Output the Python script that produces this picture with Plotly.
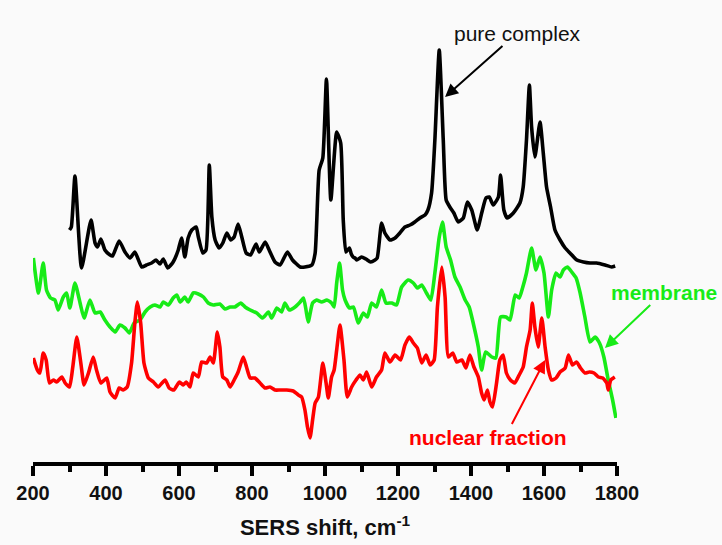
import plotly.graph_objects as go

# ---- data (SERS shift in cm^-1, intensity in arbitrary offset units) ----
complex_shift = [300, 305, 315, 333, 359, 370, 377, 386, 397, 411, 418, 436, 452, 466, 479, 498, 511, 525,
                 537, 548, 557, 569, 584, 598, 607, 616, 625, 635, 647, 653, 665, 674, 683, 690, 699, 710,
                 720, 731, 742, 751, 762, 772, 784, 796, 811, 820, 836, 847, 863, 877, 897, 911, 932, 945,
                 964, 973, 984, 994, 1004, 1016, 1032, 1043, 1050, 1057, 1062, 1067, 1072, 1077, 1082,
                 1087, 1100, 1112, 1125, 1137, 1143, 1155, 1164, 1178, 1192, 1205, 1219, 1233, 1246, 1260,
                 1274, 1282, 1292, 1301, 1313, 1324, 1332, 1342, 1353, 1365, 1379, 1390, 1402, 1417, 1430,
                 1441, 1450, 1461, 1475, 1481, 1490, 1499, 1516, 1534, 1543, 1552, 1560, 1566, 1575, 1589,
                 1598, 1607, 1618, 1630, 1644, 1658, 1671, 1690, 1708, 1726, 1744, 1767, 1785, 1795]
complex_int = [232, 235, 286, 194, 242, 219, 215, 223, 212, 207, 206, 221, 210, 204, 210, 195, 197, 199,
               202, 198, 203, 194, 200, 212, 224, 205, 224, 232, 235, 225, 209, 212, 297, 245, 222, 214,
               219, 229, 222, 225, 238, 225, 209, 207, 218, 210, 220, 212, 200, 197, 210, 202, 195, 195,
               197, 209, 292, 304, 383, 262, 330, 319, 242, 210, 212, 214, 208, 205, 204,
               202, 205, 203, 200, 202, 204, 239, 229, 222, 224, 229, 235, 237, 240, 244,
               247, 252, 269, 322, 412, 322, 262, 255, 249, 240, 244, 260, 252, 232, 250,
               264, 265, 257, 265, 287, 252, 244, 249, 259, 275, 322, 377, 335, 305, 340,
               309, 275, 255, 232, 222, 214, 209, 202, 200, 199, 199, 197, 195, 196]

membrane_shift = [201, 215, 228, 237, 248, 260, 269, 283, 292, 301, 315, 329, 340, 356, 370, 384, 397, 411,
                  425, 438, 452, 464, 477, 493, 507, 521, 534, 548, 557, 571, 584, 594, 603, 616, 625, 639,
                  653, 667, 680, 694, 712, 726, 740, 753, 769, 781, 795, 813, 829, 845, 854, 868, 881, 890,
                  902, 918, 932, 941, 948, 954, 966, 977, 991, 1005, 1018, 1025, 1032, 1040, 1048, 1055,
                  1067, 1078, 1091, 1105, 1116, 1128, 1141, 1155, 1167, 1183, 1196, 1210, 1228, 1242, 1253,
                  1265, 1278, 1290, 1301, 1313, 1322, 1332, 1344, 1356, 1370, 1384, 1395, 1406, 1420, 1429,
                  1440, 1457, 1468, 1481, 1496, 1507, 1521, 1532, 1542, 1552, 1566, 1578, 1589, 1600, 1612,
                  1621, 1633, 1644, 1653, 1664, 1676, 1688, 1699, 1712, 1726, 1740, 1752, 1764, 1776, 1788,
                  1797]
membrane_int = [204, 169, 199, 172, 164, 162, 152, 165, 169, 154, 179, 159, 144, 162, 149, 150, 142, 135,
                130, 137, 134, 129, 139, 142, 150, 155, 157, 155, 160, 157, 164, 167, 160, 165, 160, 169,
                168, 165, 159, 157, 158, 153, 155, 155, 159, 155, 152, 149, 144, 150, 144, 154, 150, 159,
                152, 155, 160, 164, 152, 140, 159, 162, 160, 162, 159, 155, 179, 199, 172, 162,
                154, 155, 139, 149, 145, 159, 155, 172, 159, 159, 157, 175, 182, 179, 174,
                177, 169, 162, 189, 225, 240, 215, 202, 185, 175, 162, 155, 139, 115, 92,
                110, 105, 104, 145, 145, 142, 167, 164, 175, 189, 214, 192, 205, 189, 145,
                172, 189, 185, 192, 195, 190, 184, 169, 145, 120, 125, 119, 105, 82, 62,
                44]

nuclear_shift = [201, 212, 219, 228, 236, 245, 256, 265, 279, 288, 300, 309, 320, 331, 340, 352, 365, 374,
                 386, 402, 411, 425, 436, 447, 458, 470, 479, 486, 495, 504, 516, 530, 543, 562, 573, 586,
                 601, 612, 620, 630, 639, 653, 662, 676, 685, 694, 705, 712, 720, 731, 740, 751, 762, 776,
                 785, 795, 808, 822, 836, 849, 863, 877, 895, 913, 927, 936, 945, 952, 959, 966, 973, 982,
                 994, 1003, 1009, 1018, 1025, 1032, 1041, 1052, 1061, 1073, 1085, 1096, 1105, 1114, 1128,
                 1141, 1155, 1164, 1178, 1192, 1207, 1219, 1231, 1242, 1253, 1265, 1277, 1288, 1299, 1308,
                 1320, 1329, 1338, 1350, 1361, 1375, 1386, 1397, 1408, 1420, 1429, 1436, 1445, 1452, 1459,
                 1470, 1479, 1488, 1497, 1508, 1520, 1532, 1543, 1552, 1562, 1568, 1575, 1584, 1594, 1603,
                 1612, 1621, 1633, 1644, 1658, 1667, 1678, 1689, 1700, 1712, 1724, 1737, 1749, 1761, 1772,
                 1776, 1783, 1794]
nuclear_int = [104, 92, 89, 109, 102, 79, 82, 80, 85, 79, 75, 95, 125, 99, 77, 89, 105, 92,
               79, 84, 70, 64, 74, 72, 75, 99, 139, 160, 139, 99, 84, 80, 75, 82, 74, 72,
               80, 77, 80, 75, 89, 85, 100, 99, 105, 99, 130, 115, 85, 82, 75, 82, 90, 105,
               95, 84, 84, 79, 74, 75, 72, 72, 72, 71, 67, 65, 52, 35, 24, 42, 59, 65,
               99, 79, 64, 85, 92, 112, 137, 102, 65, 75, 82, 87, 82, 90, 75,
               85, 92, 109, 100, 107, 102, 117, 125, 119, 114, 99, 107, 97, 102, 155,
               195, 165, 105, 109, 100, 102, 94, 107, 95, 85, 69, 62, 72, 60, 55,
               79, 102, 107, 89, 82, 79, 87, 95, 115, 132, 159, 135, 115, 144, 115,
               92, 82, 84, 90, 94, 107, 97, 100, 94, 89, 90, 89, 85, 84, 79,
               72, 82, 85]

x_ticks = [200, 400, 600, 800, 1000, 1200, 1400, 1600, 1800]
x_range = [200, 1800]
y_range = [0, 462]

BG = "#fafafa"
GREEN = "#17eb17"
RED = "#ff0000"
FONT = "Liberation Sans, Arial, sans-serif"

fig = go.Figure()
for xs, ys, col, nm in [(complex_shift, complex_int, "#000000", "pure complex"),
                        (membrane_shift, membrane_int, GREEN, "membrane"),
                        (nuclear_shift, nuclear_int, RED, "nuclear fraction")]:
    fig.add_trace(go.Scatter(x=xs, y=ys, mode="lines", name=nm,
                             line=dict(color=col, width=3.6, shape="spline", smoothing=0.5)))

fig.update_layout(
    width=722, height=545,
    margin=dict(l=33, r=105, t=0, b=83),
    paper_bgcolor=BG, plot_bgcolor=BG,
    showlegend=False,
    font=dict(family=FONT, color="#111111"),
    xaxis=dict(
        range=x_range, tickvals=x_ticks,
        showline=True, linecolor="#000000", linewidth=3.5,
        ticks="outside", ticklen=10, tickwidth=3.5, tickcolor="#000000",
        minor=dict(dtick=100, tick0=200, ticks="outside", ticklen=6, tickwidth=3.5, tickcolor="#000000"),
        showgrid=False, zeroline=False,
        tickfont=dict(family=FONT, size=20, color="#111111", weight="bold"),
        title=dict(text="<b>SERS shift, cm<sup>-1</sup></b>",
                   font=dict(family=FONT, size=22, color="#111111"), standoff=18),
    ),
    yaxis=dict(range=y_range, visible=False, showgrid=False, zeroline=False),
)

# labels with their arrows (arrow head at the marked spectral feature, tail offset in px)
fig.add_annotation(x=1329, y=365, xref="x", yref="y", text="pure complex", showarrow=True,
                   ax=72, ay=-64, arrowhead=2, arrowsize=1.3, arrowwidth=2, arrowcolor="#000000",
                   font=dict(family=FONT, size=21, color="#111111"))
fig.add_annotation(x=1767, y=114, xref="x", yref="y", text="<b>membrane</b>", showarrow=True,
                   ax=59, ay=-56, arrowhead=2, arrowsize=1.3, arrowwidth=2, arrowcolor=GREEN,
                   font=dict(family=FONT, size=21, color=GREEN))
fig.add_annotation(x=1603, y=102, xref="x", yref="y",
                   text="<b>nuclear fraction</b>" + "&nbsp;" * 6, align="left", showarrow=True,
                   ax=-40, ay=77, arrowhead=2, arrowsize=1.3, arrowwidth=2, arrowcolor=RED,
                   font=dict(family=FONT, size=21, color=RED))

fig.write_html("out.html")
